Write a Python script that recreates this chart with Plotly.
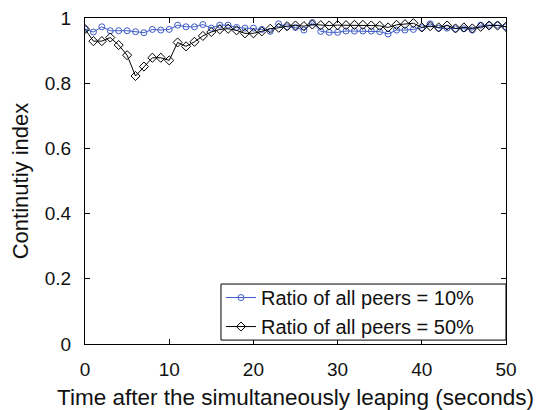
import plotly.graph_objects as go

# Time (seconds) after the simultaneous leaping
time_s = list(range(0, 51))

# Continuity index, 10% of peers leaping
ratio_10 = [0.966, 0.957, 0.973, 0.961, 0.961, 0.961, 0.958, 0.955, 0.965, 0.963,
            0.965, 0.978, 0.973, 0.973, 0.980, 0.969, 0.978, 0.978, 0.971, 0.969,
            0.969, 0.965, 0.959, 0.982, 0.973, 0.971, 0.963, 0.986, 0.959, 0.956,
            0.956, 0.960, 0.960, 0.960, 0.960, 0.958, 0.951, 0.963, 0.963, 0.965,
            0.970, 0.982, 0.969, 0.969, 0.967, 0.967, 0.963, 0.978, 0.978, 0.978,
            0.973]

# Continuity index, 50% of peers leaping
ratio_50 = [0.966, 0.929, 0.929, 0.940, 0.917, 0.886, 0.822, 0.851, 0.878, 0.878,
            0.870, 0.925, 0.913, 0.927, 0.945, 0.957, 0.965, 0.967, 0.962, 0.953,
            0.953, 0.959, 0.967, 0.970, 0.975, 0.977, 0.975, 0.980, 0.978, 0.977,
            0.978, 0.978, 0.979, 0.979, 0.977, 0.976, 0.971, 0.979, 0.981, 0.984,
            0.971, 0.975, 0.971, 0.977, 0.968, 0.971, 0.968, 0.973, 0.977, 0.977,
            0.973]

x_ticks = [0, 10, 20, 30, 40, 50]
y_ticks = [0, 0.2, 0.4, 0.6, 0.8, 1]
y_tick_text = ["0", "0.2", "0.4", "0.6", "0.8", "1"]

FONT = "Liberation Sans, Arial, sans-serif"
BLUE = "#3d5bc9"

fig = go.Figure()
fig.add_trace(go.Scatter(
    x=time_s, y=ratio_10, mode="lines+markers",
    name="Ratio of all peers = 10%",
    line=dict(color=BLUE, width=1),
    marker=dict(symbol="circle-open", size=6, color=BLUE, line=dict(width=1)),
))
fig.add_trace(go.Scatter(
    x=time_s, y=ratio_50, mode="lines+markers",
    name="Ratio of all peers = 50%",
    line=dict(color="#000000", width=1),
    marker=dict(symbol="diamond-open", size=7, color="#000000", line=dict(width=1)),
))

axis_common = dict(
    showline=True, linecolor="black", linewidth=1, mirror="ticks",
    ticks="inside", ticklen=5, tickcolor="black", tickwidth=1,
    showgrid=False, zeroline=False, automargin=False,
    tickfont=dict(family=FONT, size=19, color="#111111"),
)

fig.update_xaxes(
    range=[0, 50], tickvals=x_ticks, ticklabelstandoff=8,
    title=dict(text="Time after the simultaneously leaping (seconds)",
               font=dict(family=FONT, size=22.5, color="#111111"), standoff=13),
    **axis_common,
)
fig.update_yaxes(
    range=[0, 1], tickvals=y_ticks, ticktext=y_tick_text, ticklabelstandoff=9,
    title=dict(text="Continutiy index",
               font=dict(family=FONT, size=22, color="#111111"), standoff=10),
    **axis_common,
)

# legend frame, drawn a little wider than the legend's own box
fig.add_shape(
    type="rect", xref="paper", yref="paper",
    x0=0.323, x1=1.0, y0=0.012, y1=0.184,
    line=dict(color="black", width=1), fillcolor="white", layer="above",
)

fig.update_layout(
    width=537, height=410,
    margin=dict(l=85, r=31, t=18, b=66),
    paper_bgcolor="white", plot_bgcolor="white",
    showlegend=True,
    legend=dict(
        x=0.323, y=0.098, xanchor="left", yanchor="middle",
        bgcolor="rgba(0,0,0,0)", borderwidth=0,
        font=dict(family=FONT, size=20, color="#111111"),
        tracegroupgap=0, itemwidth=30,
    ),
)

fig.write_html("out.html")
